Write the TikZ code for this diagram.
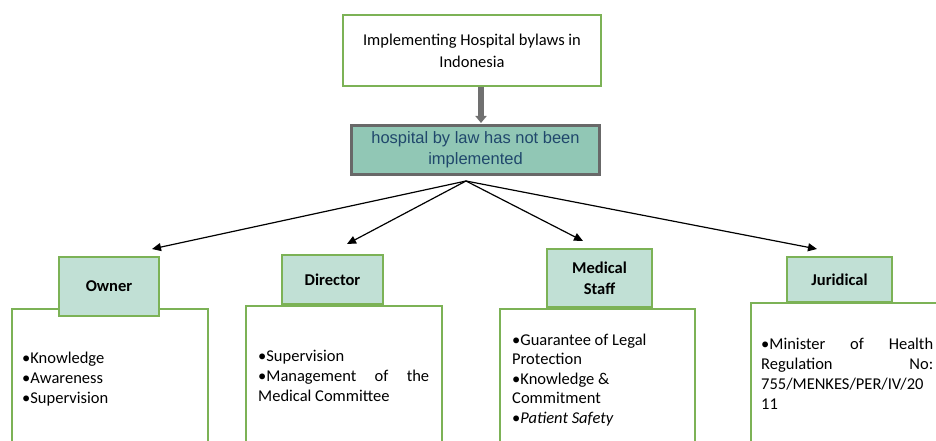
\documentclass[tikz,border=0pt]{standalone}
\usepackage{fontspec}
\setmainfont{Carlito}
\newfontfamily\arialfont{Liberation Sans}
\usetikzlibrary{arrows.meta}

\definecolor{boxgreen}{RGB}{124,178,86}
\definecolor{headfill}{RGB}{193,224,213}
\definecolor{tealfill}{RGB}{145,199,181}
\definecolor{tealedge}{RGB}{104,104,104}
\definecolor{tealtext}{RGB}{32,72,108}
\definecolor{feedgray}{RGB}{112,112,112}

\tikzset{
  greenbox/.style={draw=boxgreen, line width=1.8pt, rectangle, inner sep=0pt},
  topbox/.style={greenbox, fill=white, minimum width=258pt, minimum height=71pt,
    align=center, font=\fontsize{16.5}{22}\selectfont},
  problembox/.style={rectangle, draw=tealedge, line width=3pt, fill=tealfill,
    minimum width=248pt, minimum height=49pt, inner sep=0pt, align=center,
    text=tealtext, font=\arialfont\fontsize{16.5}{21}\selectfont},
  headbox/.style={greenbox, fill=headfill, align=center,
    font=\bfseries\fontsize{16.5}{21}\selectfont},
  bodybox/.style={greenbox, fill=white},
  % anchored at the baseline of the last line
  bodytext/.style={anchor=base west, inner sep=0pt, align=left,
    font=\fontsize{16.5}{20}\selectfont},
  spoke/.style={-{Triangle[length=9pt,width=8pt]}, line width=1.2pt, black},
  feed/.style={-{Triangle[length=7pt,width=11pt]}, line width=5.5pt, feedgray}
}

\begin{document}
\begin{tikzpicture}[x=1pt, y=-1pt]
\clip (0,0) rectangle (936,441);
\fill[white] (0,0) rectangle (936,441);

% title and central problem
\node[topbox] (topic) at (472,50.5) {Implementing Hospital bylaws in\\Indonesia};
\node[problembox] (problem) at (475.5,150) {hospital by law has not been\\implemented};
\coordinate (feedstart) at (481,87.5);
\coordinate (feedend) at (481,123);
\draw[feed] (feedstart) -- (feedend);

% body boxes (headers sit on top of them)
\node[bodybox, minimum width=196pt, minimum height=160pt, anchor=north west] (ownerbody) at (11,308) {};
\node[bodybox, minimum width=196pt, minimum height=160pt, anchor=north west] (dirbody) at (245,305) {};
\node[bodybox, minimum width=195pt, minimum height=160pt, anchor=north west] (medbody) at (499,308) {};
\node[bodybox, minimum width=220pt, minimum height=160pt, anchor=north west] (jurbody) at (750,302) {};

% category headers
\node[headbox, minimum width=100pt, minimum height=59pt] (owner) at (109,286.5) {Owner};
\node[headbox, minimum width=101pt, minimum height=49pt] (director) at (332.5,279.5) {Director};
\node[headbox, minimum width=105pt, minimum height=58pt] (medical) at (599.5,278) {Medical\\Staff};
\node[headbox, minimum width=105pt, minimum height=45pt] (juridical) at (839.5,279.5) {Juridical};

% spokes from the problem box to each category
\coordinate (hub) at (466,181);
\coordinate (toowner) at (152,249);
\coordinate (todirector) at (347,244);
\coordinate (tomedical) at (583,241);
\coordinate (tojuridical) at (817,249);
\draw[spoke] (hub) -- (toowner);
\draw[spoke] (hub) -- (todirector);
\draw[spoke] (hub) -- (tomedical);
\draw[spoke] (hub) -- (tojuridical);

% box contents
\node[bodytext] (ownertext) at (22,403) {•Knowledge\\•Awareness\\•Supervision};
\node[bodytext] (dirtext) at (258,401) {•Supervision\\\makebox[171pt][s]{•Management of the}\\Medical Committee};
\node[bodytext, font=\fontsize{16.5}{19.6}\selectfont] (medtext) at (512,423.4) {•Guarantee of Legal\\Protection\\•Knowledge \&\\Commitment\\•\textit{Patient Safety}};
\node[bodytext] (jurtext) at (761,409) {\makebox[172pt][s]{•Minister of Health}\\\makebox[172pt][s]{Regulation No:}\\755/MENKES/PER/IV/20\\11};
\end{tikzpicture}
\end{document}
